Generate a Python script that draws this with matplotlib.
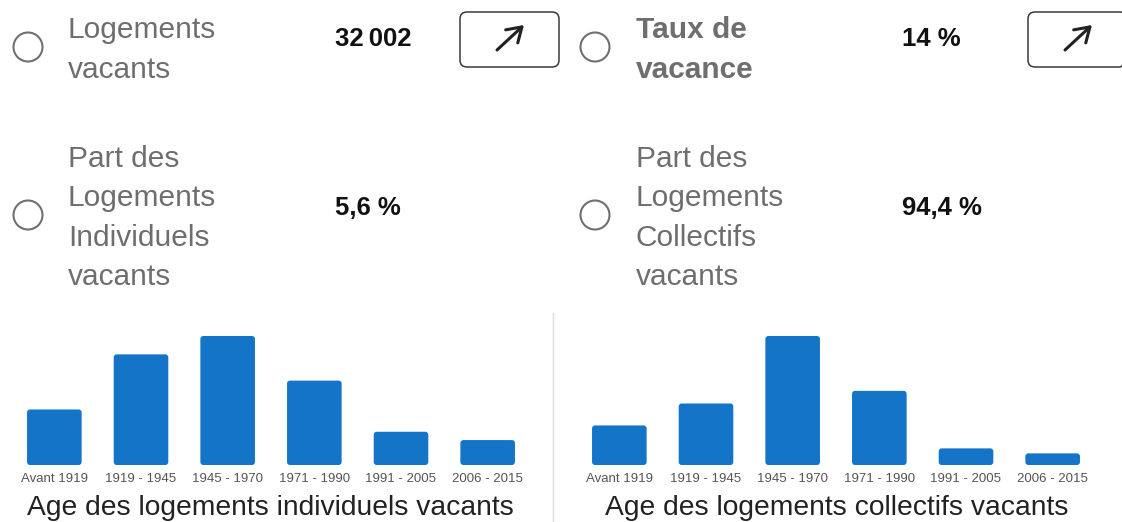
import matplotlib
matplotlib.use("Agg")
import matplotlib.pyplot as plt
from matplotlib.patches import Circle, FancyBboxPatch

plt.rcParams["font.family"] = ["Liberation Sans", "DejaVu Sans"]

# data
periods = ["Avant 1919", "1919 - 1945", "1945 - 1970", "1971 - 1990", "1991 - 2005", "2006 - 2015"]
individuels_share = [12.7, 25.3, 29.5, 19.3, 7.6, 5.7]
collectifs_share = [11.9, 18.5, 38.8, 22.3, 5.0, 3.5]

indicator_labels = [["Logements", "vacants"], ["Taux de", "vacance"],
                    ["Part des", "Logements", "Individuels", "vacants"],
                    ["Part des", "Logements", "Collectifs", "vacants"]]
indicator_values = ["32\u2009002", "14 %", "5,6 %", "94,4 %"]
chart_titles = ["Age des logements individuels vacants", "Age des logements collectifs vacants"]

W, H = 1122, 522
BAR_COLOR = "#1474C8"
LINE_STEP = 39.5

fig = plt.figure(figsize=(W / 100, H / 100), dpi=100)
over = fig.add_axes([0, 0, 1, 1])
over.set_xlim(0, W)
over.set_ylim(H, 0)
over.axis("off")

# indicator blocks: circle x, label x, value x, row centre y, value y, bold label, box x (or None)
blocks = [
    (28, 68, 335, 47, 39, False, 460),
    (595, 636, 902, 47, 39, True, 1028),
    (28, 68, 335, 215, 208, False, None),
    (595, 636, 902, 215, 208, False, None),
]
for (cx, lx, vx, cy, vy, bold, bx), lines, value in zip(blocks, indicator_labels, indicator_values):
    over.add_patch(Circle((cx, cy), 14.5, fill=False, edgecolor="#707070", linewidth=1.5))
    n = len(lines)
    for i, line in enumerate(lines):
        over.text(lx, cy + 11 + (i - (n - 1) / 2) * LINE_STEP, line, fontsize=21.5,
                  color="#6e6e6e", va="baseline", ha="left",
                  fontweight="bold" if bold else "normal")
    over.text(vx, vy, value, fontsize=18.5, fontweight="bold",
              color="#111111", va="center", ha="left")
    if bx is not None:
        over.add_patch(FancyBboxPatch((bx, 12), 99, 55, boxstyle="round,pad=0,rounding_size=7",
                                      fill=False, edgecolor="#3a3a3a", linewidth=1.1))
        mid = bx + 50.5
        over.annotate("", xy=(mid + 13.5, 25), xytext=(mid - 13.5, 50),
                      arrowprops=dict(arrowstyle="->,head_length=0.5,head_width=0.32",
                                      mutation_scale=20, lw=2.2, color="#222222",
                                      shrinkA=0, shrinkB=0))

# divider between the two charts
over.plot([553, 553], [313, H], color="#dddddd", linewidth=1)

# bar charts
AX_W, AX_H = 520, 129
for left_px, values, title, title_x in [
    (11, individuels_share, chart_titles[0], 270),
    (576, collectifs_share, chart_titles[1], 837),
]:
    ax = fig.add_axes([left_px / W, (H - 465) / H, AX_W / W, AX_H / H])
    bars = ax.bar(range(len(periods)), values, width=0.63, color=BAR_COLOR)
    ax.set_xlim(-0.5, len(periods) - 0.5)
    ax.set_ylim(0, max(values))
    # slightly rounded bar corners, as in the reference
    x_per_px = len(periods) / AX_W
    y_per_px = max(values) / AX_H
    for bar in bars:
        bar.set_visible(False)
        ax.add_patch(FancyBboxPatch(
            (bar.get_x(), bar.get_y()), bar.get_width(), bar.get_height(),
            boxstyle=f"round,pad=0,rounding_size={3 * x_per_px}",
            mutation_aspect=y_per_px / x_per_px,
            facecolor=BAR_COLOR, edgecolor="none"))
    ax.set_xticks(range(len(periods)), labels=periods)
    ax.tick_params(axis="x", length=0, pad=6, labelsize=9.5, labelcolor="#555555")
    ax.set_yticks([])
    for spine in ax.spines.values():
        spine.set_visible(False)
    ax.patch.set_alpha(0)
    over.text(title_x, 508, title, fontsize=20.3, color="#222222", ha="center", va="center")

fig.savefig("out.png", dpi=100)
